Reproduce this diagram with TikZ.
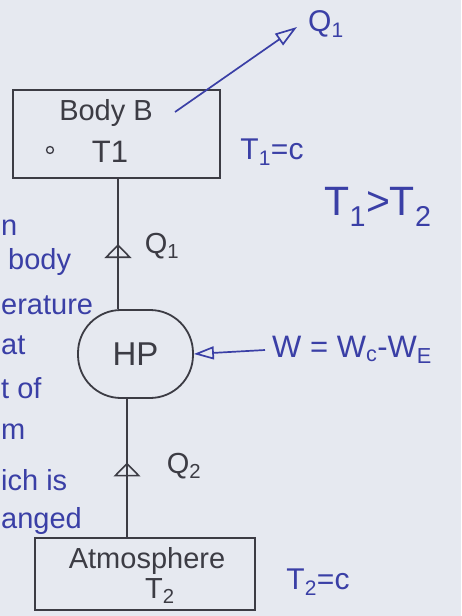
\documentclass[tikz,border=0pt]{standalone}
\usepackage{fontspec}
\setmainfont{Liberation Sans}
\usetikzlibrary{arrows.meta,decorations.markings}
\definecolor{paper}{HTML}{E6E9F0}
\definecolor{ink}{HTML}{3C3C44}
\definecolor{pen}{HTML}{3A3FA6}
\begin{document}
\begin{tikzpicture}[x=1pt,y=-1pt,
  boxstyle/.style={draw=ink, line width=1.8pt, inner sep=0pt},
  inktext/.style={text=ink, inner sep=1pt, font=\fontsize{29}{32}\selectfont},
  pentext/.style={text=pen, inner sep=1pt, font=\fontsize{30}{33}\selectfont},
  sidetext/.style={text=pen, inner sep=0pt, anchor=west, font=\fontsize{29}{32}\selectfont},
  flow/.style={draw=ink, line width=1.8pt},
  midarrow/.style={postaction={decorate}, decoration={markings,
     mark=at position #1 with {\arrow[ink,line width=1.6pt]{Triangle[open,width=27pt,length=14pt]}}}}
]
\fill[paper] (0,0) rectangle (461,616);
\useasboundingbox (0,0) rectangle (461,616);

% Body B
\node[boxstyle, minimum width=207pt, minimum height=88pt] (body) at (116.5,134) {};
\node[inktext] (bodyname) at (106,113) {Body B};
\node[circle, draw=ink, line width=1.3pt, minimum size=7pt, inner sep=0pt] (bodydot) at (50,150) {};
\node[inktext, font=\fontsize{31}{33}\selectfont] (bodyT) at (110,152) {T1};
\node[pentext] (t1c) at (272,152) {T\textsubscript{1}=c};
\node[pentext, font=\fontsize{41}{44}\selectfont] (t1gt) at (378,207) {T\textsubscript{1}>T\textsubscript{2}};

% heat out of body
\coordinate (qstart) at (175,112);
\coordinate (qend) at (297,27);
\draw[pen, line width=1.7pt, -{Triangle[open,width=14pt,length=22pt]}] (qstart) -- (qend);
\node[pentext] (q1top) at (326,24) {Q\textsubscript{1}};

% HP
\node[draw=ink, line width=1.8pt, rounded corners=43pt, minimum width=115pt, minimum height=88pt,
      text=ink, font=\fontsize{33}{35}\selectfont] (hp) at (135.5,354) {HP};
\coordinate (upx) at (118,0);
\draw[flow, midarrow=0.5] (hp.north -| upx) -- (body.south -| upx);
\node[inktext] (q1mid) at (162,246) {Q\textsubscript{1}};

% Work
\coordinate (wend) at (265,350);
\draw[pen, line width=1.7pt, -{Triangle[open,width=13pt,length=20pt]}] (wend) -- (hp.east);
\node[sidetext, font=\fontsize{31}{34}\selectfont] (wlabel) at (272,350) {W = W\textsubscript{c}-W\textsubscript{E}};

% Atmosphere
\node[boxstyle, minimum width=220pt, minimum height=72pt] (atm) at (145,574) {};
\node[inktext] (atmname) at (147,561) {Atmosphere};
\node[inktext] (atmT) at (160,591) {T\textsubscript{2}};
\node[pentext] (t2c) at (318,582) {T\textsubscript{2}=c};
\coordinate (lowx) at (127,0);
\draw[flow, midarrow=0.54] (atm.north -| lowx) -- (hp.south -| lowx);
\node[inktext] (q2mid) at (184,466) {Q\textsubscript{2}};

% cut-off text at the left margin
\node[sidetext] (f1) at (1,228) {n};
\node[sidetext] (f2) at (8,262) {body};
\node[sidetext] (f3) at (1,305) {erature};
\node[sidetext] (f4) at (1,345) {at};
\node[sidetext] (f5) at (1,388) {t of};
\node[sidetext] (f6) at (1,432) {m};
\node[sidetext] (f7) at (1,480) {ich is};
\node[sidetext] (f8) at (1,521) {anged};
\end{tikzpicture}
\end{document}
